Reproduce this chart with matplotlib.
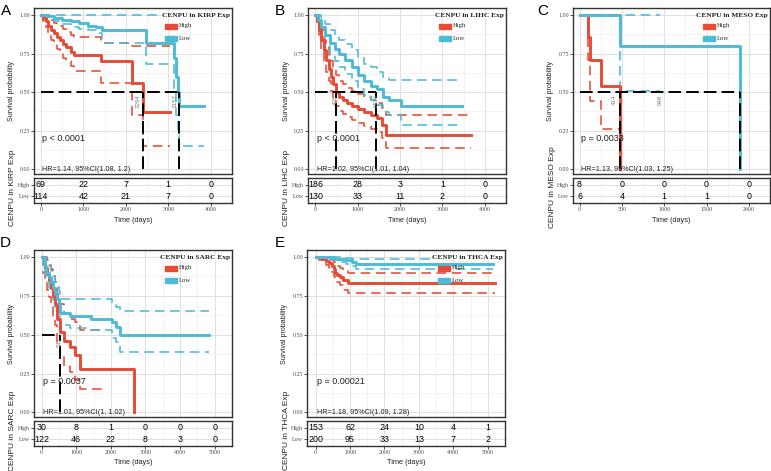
import matplotlib
matplotlib.use("Agg")
import matplotlib.pyplot as plt
from matplotlib.patches import Rectangle

RED = '#E64B35'
BLUE = '#4DBBD5'
SANS = 'Liberation Sans'
SERIF = 'Liberation Serif'
W, H = 771, 471

# ---------------- A: KIRP ----------------
a_high_t = [0, 60, 120, 180, 240, 300, 380, 450, 520, 600, 700, 780, 1410, 2140, 2410, 3040]
a_high_s = [1.0, 0.98, 0.96, 0.93, 0.90, 0.88, 0.86, 0.84, 0.81, 0.79, 0.76, 0.74, 0.70, 0.56, 0.37, 0.37]
a_high_lo = [1.0, 0.96, 0.92, 0.88, 0.84, 0.81, 0.78, 0.75, 0.72, 0.70, 0.67, 0.64, 0.56, 0.35, 0.15, 0.15]
a_high_up = [1.0, 1.0, 1.0, 0.99, 0.97, 0.95, 0.94, 0.93, 0.91, 0.89, 0.87, 0.86, 0.82, 0.80, 0.80, 0.80]
a_low_t = [0, 150, 300, 500, 700, 900, 1100, 1300, 1450, 2480, 3135, 3180, 3220, 3260, 3850]
a_low_s = [1.0, 0.99, 0.98, 0.97, 0.96, 0.95, 0.93, 0.92, 0.90, 0.82, 0.72, 0.60, 0.50, 0.41, 0.41]
a_low_lo = [1.0, 0.98, 0.96, 0.94, 0.92, 0.91, 0.90, 0.88, 0.82, 0.68, 0.50, 0.35, 0.22, 0.15, 0.15]
a_low_up = [1.0] * 15
a_risk_high = [69, 22, 7, 1, 0]
a_risk_low = [114, 42, 21, 7, 0]
a_med_x = [2410, 3260]
a_med_lab = ['2294', '3157']
a_p = 'p < 0.0001'
a_hr = 'HR=1.14, 95%CI(1.08, 1.2)'

# ---------------- B: LIHC ----------------
b_high_t = [0, 40, 90, 140, 200, 250, 310, 360, 420, 490, 560, 640, 750, 860, 1000, 1150, 1300, 1450, 1560, 1670, 3680]
b_high_s = [1.0, 0.96, 0.90, 0.84, 0.77, 0.71, 0.65, 0.60, 0.55, 0.50, 0.47, 0.45, 0.43, 0.41, 0.39, 0.37, 0.35, 0.33, 0.29, 0.22, 0.22]
b_high_lo = [1.0, 0.93, 0.85, 0.78, 0.70, 0.63, 0.57, 0.51, 0.46, 0.41, 0.38, 0.36, 0.34, 0.32, 0.30, 0.28, 0.26, 0.24, 0.20, 0.14, 0.14]
b_high_up = [1.0, 1.0, 0.95, 0.90, 0.84, 0.79, 0.74, 0.70, 0.65, 0.61, 0.57, 0.55, 0.53, 0.51, 0.49, 0.47, 0.45, 0.43, 0.40, 0.35, 0.35]
b_low_t = [0, 60, 125, 230, 345, 450, 566, 700, 860, 1000, 1150, 1300, 1450, 1600, 1740, 2020, 3470]
b_low_s = [1.0, 0.97, 0.92, 0.87, 0.82, 0.78, 0.75, 0.71, 0.66, 0.61, 0.57, 0.54, 0.52, 0.47, 0.45, 0.41, 0.41]
b_low_lo = [1.0, 0.94, 0.87, 0.80, 0.75, 0.70, 0.66, 0.62, 0.57, 0.52, 0.48, 0.45, 0.42, 0.37, 0.35, 0.29, 0.29]
b_low_up = [1.0, 1.0, 0.98, 0.94, 0.90, 0.87, 0.84, 0.81, 0.77, 0.72, 0.68, 0.66, 0.63, 0.60, 0.58, 0.58, 0.58]
b_risk_high = [186, 28, 3, 1, 0]
b_risk_low = [130, 33, 11, 2, 0]
b_med_x = [478, 1434]
b_med_lab = ['478', '1434']
b_p = 'p < 0.0001'
b_hr = 'HR=1.02, 95%CI(1.01, 1.04)'

# ---------------- C: MESO ----------------
c_high_t = [0, 99, 128, 249, 483]
c_high_s = [1.0, 0.86, 0.71, 0.54, 0.0]
c_high_ci_t = [0, 99, 128, 249, 475]
c_high_lo = [1.0, 0.71, 0.44, 0.26, 0.26]
c_high_up = [1.0, 1.0, 1.0, 1.0, 1.0]
c_low_t = [0, 483, 1901]
c_low_s = [1.0, 0.80, 0.0]
c_low_ci_t = [0, 483, 950]
c_low_lo = [1.0, 0.51, 0.51]
c_low_up = [1.0, 1.0, 1.0]
c_risk_high = [8, 0, 0, 0, 0]
c_risk_low = [6, 4, 1, 1, 0]
c_med_x = [483, 1901]
c_med_lab = ['414', '948']
c_p = 'p = 0.0033'
c_hr = 'HR=1.13, 95%CI(1.03, 1.25)'

# ---------------- D: SARC ----------------
d_high_t = [0, 50, 100, 150, 200, 260, 320, 380, 450, 545, 640, 820, 960, 1100, 2665]
d_high_s = [1.0, 0.97, 0.93, 0.89, 0.85, 0.80, 0.75, 0.70, 0.60, 0.52, 0.46, 0.42, 0.37, 0.28, 0.0]
d_high_ci_t = [0, 50, 100, 150, 200, 260, 320, 380, 450, 545, 640, 820, 960, 1100, 1850]
d_high_lo = [1.0, 0.90, 0.84, 0.79, 0.74, 0.68, 0.62, 0.56, 0.45, 0.36, 0.30, 0.26, 0.21, 0.15, 0.15]
d_high_up = [1.0, 1.0, 1.0, 0.98, 0.95, 0.92, 0.88, 0.84, 0.76, 0.70, 0.64, 0.60, 0.58, 0.53, 0.53]
d_low_t = [0, 50, 100, 130, 200, 270, 330, 400, 450, 500, 545, 820, 1420, 2020, 2160, 2250, 4835]
d_low_s = [1.0, 0.97, 0.94, 0.90, 0.87, 0.84, 0.80, 0.76, 0.73, 0.70, 0.64, 0.62, 0.60, 0.58, 0.55, 0.50, 0.50]
d_low_lo = [1.0, 0.94, 0.89, 0.84, 0.80, 0.77, 0.72, 0.68, 0.65, 0.62, 0.56, 0.54, 0.53, 0.48, 0.45, 0.39, 0.39]
d_low_up = [1.0, 1.0, 1.0, 0.97, 0.94, 0.91, 0.88, 0.84, 0.81, 0.78, 0.73, 0.73, 0.73, 0.70, 0.68, 0.65, 0.65]
d_risk_high = [30, 8, 1, 0, 0, 0]
d_risk_low = [122, 46, 22, 8, 3, 0]
d_med_x = [517]
d_med_lab = ['517']
d_p = 'p = 0.0037'
d_hr = 'HR=1.01, 95%CI(1, 1.02)'

# ---------------- E: THCA ----------------
e_high_t = [0, 100, 200, 300, 400, 480, 520, 570, 620, 710, 800, 940, 5200]
e_high_s = [1.0, 0.995, 0.985, 0.975, 0.96, 0.94, 0.92, 0.90, 0.885, 0.87, 0.85, 0.83, 0.83]
e_high_lo = [1.0, 0.98, 0.965, 0.95, 0.93, 0.905, 0.88, 0.86, 0.84, 0.82, 0.79, 0.765, 0.765]
e_high_up = [1.0, 1.0, 1.0, 1.0, 0.99, 0.98, 0.965, 0.95, 0.94, 0.93, 0.915, 0.90, 0.90]
e_low_t = [0, 300, 520, 700, 890, 1050, 1170, 5165]
e_low_s = [1.0, 0.997, 0.99, 0.985, 0.98, 0.97, 0.955, 0.955]
e_low_lo = [1.0, 0.99, 0.98, 0.97, 0.955, 0.94, 0.92, 0.92]
e_low_up = [1.0, 1.0, 1.0, 1.0, 0.995, 0.99, 0.985, 0.985]
e_risk_high = [153, 62, 24, 10, 4, 1]
e_risk_low = [200, 95, 33, 13, 7, 2]
e_med_x = []
e_med_lab = []
e_p = 'p = 0.00021'
e_hr = 'HR=1.18, 95%CI(1.09, 1.28)'

panels = [
    dict(letter='A', lpos=(1, 4), name='KIRP', box=(34, 8, 232, 174, 178, 203),
         xlim=(-160, 4220), xticks=[0, 1000, 2000, 3000, 4000],
         high=(a_high_t, a_high_s, a_high_t, a_high_lo, a_high_up),
         low=(a_low_t, a_low_s, a_low_t, a_low_lo, a_low_up),
         risk=(a_risk_high, a_risk_low), med=(a_med_x, a_med_lab), p=a_p, hr=a_hr),
    dict(letter='B', lpos=(275, 4), name='LIHC', box=(308, 8, 506, 174, 178, 203),
         xlim=(-177, 4200), xticks=[0, 1000, 2000, 3000, 4000],
         high=(b_high_t, b_high_s, b_high_t, b_high_lo, b_high_up),
         low=(b_low_t, b_low_s, b_low_t, b_low_lo, b_low_up),
         risk=(b_risk_high, b_risk_low), med=(b_med_x, b_med_lab), p=b_p, hr=b_hr),
    dict(letter='C', lpos=(537, 4), name='MESO', box=(573, 8, 770, 174, 178, 203),
         xlim=(-77, 2099), xticks=[0, 500, 1000, 1500, 2000],
         high=(c_high_t, c_high_s, c_high_ci_t, c_high_lo, c_high_up),
         low=(c_low_t, c_low_s, c_low_ci_t, c_low_lo, c_low_up),
         risk=(c_risk_high, c_risk_low), med=(c_med_x, c_med_lab), p=c_p, hr=c_hr),
    dict(letter='D', lpos=(0, 236), name='SARC', box=(34, 250, 232, 417, 421, 446),
         xlim=(-220, 5250), xticks=[0, 1000, 2000, 3000, 4000, 5000],
         high=(d_high_t, d_high_s, d_high_ci_t, d_high_lo, d_high_up),
         low=(d_low_t, d_low_s, d_low_t, d_low_lo, d_low_up),
         risk=(d_risk_high, d_risk_low), med=(d_med_x, d_med_lab), p=d_p, hr=d_hr),
    dict(letter='E', lpos=(275, 236), name='THCA', box=(307, 250, 505, 417, 421, 446),
         xlim=(-250, 5220), xticks=[0, 1000, 2000, 3000, 4000, 5000],
         high=(e_high_t, e_high_s, e_high_t, e_high_lo, e_high_up),
         low=(e_low_t, e_low_s, e_low_t, e_low_lo, e_low_up),
         risk=(e_risk_high, e_risk_low), med=(e_med_x, e_med_lab), p=e_p, hr=e_hr),
]

fig = plt.figure(figsize=(W / 100, H / 100), dpi=100)


def px_axes(l, t, r, b):
    return fig.add_axes([l / W, 1 - b / H, (r - l) / W, (b - t) / H])


def fx(x):
    return x / W


def fy(y):
    return 1 - y / H


def style_axes(ax, p):
    xt = p['xticks']
    step = xt[1] - xt[0]
    ax.set_xlim(*p['xlim'])
    ax.set_xticks(xt)
    ax.set_xticks([x + step / 2 for x in xt], minor=True)
    ax.grid(which='major', color='#E0E0E0', lw=0.75)
    ax.grid(which='minor', color='#EFEFEF', lw=0.5)
    ax.set_axisbelow(True)
    for sp in ax.spines.values():
        sp.set_color('#333333')
        sp.set_linewidth(1.0)
    ax.tick_params(which='minor', length=0)
    ax.tick_params(which='major', length=2, width=0.6, color='#333333', labelsize=4.3,
                   pad=1, labelfontfamily=SERIF, labelcolor='#4D4D4D')


def draw_panel(p):
    l, t, r, b, rt, rb = p['box']
    sax = px_axes(l, t, r, b)
    rax = px_axes(l, rt, r, rb)
    style_axes(sax, p)
    style_axes(rax, p)

    # survival curves
    sax.set_ylim(-0.03, 1.045)
    sax.set_yticks([0, 0.25, 0.5, 0.75, 1.0])
    sax.set_yticklabels(['0.00', '0.25', '0.50', '0.75', '1.00'])
    sax.set_yticks([0.125, 0.375, 0.625, 0.875], minor=True)
    sax.tick_params(axis='x', which='both', labelbottom=False, length=0)

    groups = [(p['high'], RED), (p['low'], BLUE)]
    for (tt, ss, ct, lo, up), color in groups:
        sax.step(ct, lo, where='post', color=color, lw=1.15, ls=(0, (6, 3.5)), zorder=2)
        sax.step(ct, up, where='post', color=color, lw=1.15, ls=(0, (6, 3.5)), zorder=2)
    for (tt, ss, ct, lo, up), color in groups:
        sax.step(tt, ss, where='post', color=color, lw=2.1, zorder=3)

    med_x, med_lab = p['med']
    if med_x:
        dash = (0, (6.5, 2.6))
        sax.plot([0, max(med_x)], [0.5, 0.5], color='black', lw=1.4, ls=dash, zorder=5)
        for mx in med_x:
            sax.plot([mx, mx], [0, 0.5], color='black', lw=1.4, ls=dash, zorder=5)
        for lab in med_lab:
            sax.text(float(lab), 0.485, lab, rotation=90, ha='center', va='top',
                     fontsize=4.5, color='#808080', family=SANS, zorder=6)

    x0 = p['xticks'][-1] * 0.01
    sax.text(x0, 0.2, p['p'], fontsize=6.5, family=SANS, va='center', color='#222222', zorder=7)
    sax.text(x0, 0.0, p['hr'], fontsize=5.2, family=SANS, va='center', color='#222222', zorder=7)

    # risk table
    rax.set_ylim(0.4, 2.6)
    rax.set_yticks([2, 1])
    rax.set_yticklabels(['High', 'Low'])
    high, low = p['risk']
    for x, n in zip(p['xticks'], high):
        rax.text(x, 2, str(n), ha='center', va='center', fontsize=6.4, family=SANS)
    for x, n in zip(p['xticks'], low):
        rax.text(x, 1, str(n), ha='center', va='center', fontsize=6.4, family=SANS)

    # labels
    fig.text(fx(l - 22), fy((t + b) / 2), 'Survival probability', rotation=90,
             ha='center', va='center', fontsize=5.1, family=SANS, color='#222222')
    fig.text(fx(l - 21), fy((rt + rb) / 2 - 3), f"CENPU in {p['name']} Exp", rotation=90,
             ha='center', va='center', fontsize=6.0, family=SANS, color='#222222')
    fig.text(fx((l + r) / 2), fy(rb + 17), 'Time (days)', ha='center', va='center',
             fontsize=5.3, family=SANS, color='#222222')
    fig.text(fx(p['lpos'][0]), fy(p['lpos'][1]), p['letter'], ha='left', va='top',
             fontsize=11, family=SANS)

    # legend
    fig.text(fx(r - 2), fy(t + 7), f"CENPU in {p['name']} Exp", ha='right', va='center',
             fontsize=5.3, family=SERIF, weight='bold', color='#222222',
             bbox=dict(fc='white', ec='none', pad=0.4))
    for dy, lab, color in ((18, 'High', RED), (30, 'Low', BLUE)):
        fig.add_artist(Rectangle((fx(r - 67), fy(t + dy + 2.5)), 12 / W, 5 / H,
                                 color=color, transform=fig.transFigure))
        fig.text(fx(r - 53), fy(t + dy), lab, ha='left', va='center',
                 fontsize=4.8, family=SERIF, color='#222222')


for p in panels:
    draw_panel(p)

fig.savefig('out.png', dpi=100)
